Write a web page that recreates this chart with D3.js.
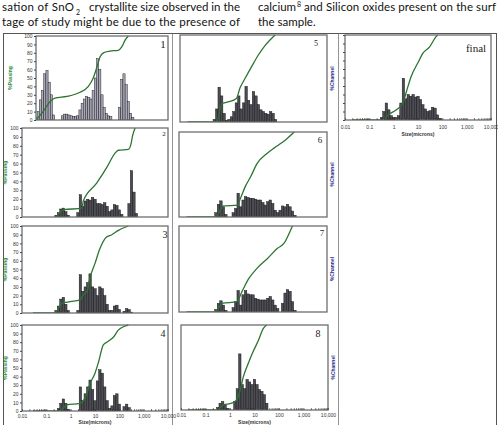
<!DOCTYPE html>
<html>
<head>
<meta charset="utf-8">
<script src="https://cdn.jsdelivr.net/npm/d3@7"></script>
<style>
  body { margin: 0; background: #fff; }
  svg { display: block; }
</style>
</head>
<body>
<script>
// particle size channels (microns), shared by every panel
const channels = [0.01, 0.0126, 0.0158, 0.02, 0.0251, 0.0316, 0.0398, 0.0501, 0.0631, 0.0794,
  0.1, 0.126, 0.158, 0.2, 0.251, 0.316, 0.398, 0.501, 0.631, 0.794,
  1, 1.26, 1.58, 2, 2.51, 3.16, 3.98, 5.01, 6.31, 7.94,
  10, 12.6, 15.8, 20, 25.1, 31.6, 39.8, 50.1, 63.1, 79.4,
  100, 126, 158, 200, 251, 316, 398, 501, 631, 794, 1000];

// % channel values, one per size channel
const bars1 = [3,10,24,35,55,59,45,30,6,0, 0,0,5,7,7,6,5,4,4,5, 12,20,25,28,27,25,35,50,73,60, 30,15,8,5,4,0,0,0,15,48, 55,42,22,8,3,0,0,0,0,0, 0];
const bars2 = [0,0,0,0,0,0,0,0,0,0, 0,0,0,0,2,5,9,10,6,2, 0,0,0,5,25,12,18,20,19,22, 20,15,15,14,16,12,6,8,14,13, 8,3,0,0,15,52,28,4,0,0, 0];
const bars3 = [0,0,0,0,0,0,0,0,0,0, 0,0,0,0,3,8,16,18,10,3, 0,0,0,3,44,25,30,35,45,30, 28,20,30,28,20,10,3,3,8,9, 4,0,2,5,4,1,0,0,0,0, 0];
const bars4 = [0,0,0,0,0,0,0,0,0,0, 0,0,0,0,0,3,9,14,9,2, 0,0,0,0,28,12,20,28,36,25, 12,35,48,44,28,12,3,6,18,20, 8,0,5,8,4,0,0,0,0,0, 0];
const bars5 = [0,0,0,0,0,0,0,0,0,0, 0,0,0,0,3,15,40,30,10,2, 3,6,12,22,30,15,22,41,25,20, 35,30,20,14,12,10,9,12,10,3, 0,0,0,0,0,0,0,0,0,0, 0];
const bars6 = [0,0,0,0,0,0,0,0,0,0, 0,0,0,0,0,5,15,19,12,3, 0,0,5,10,28,12,20,24,23,22, 22,21,20,20,17,14,18,20,16,8, 5,8,13,12,15,12,7,2,0,0, 0];
const bars7 = [0,0,0,0,0,0,0,0,0,0, 0,0,0,0,0,3,10,13,8,2, 0,0,5,12,25,8,20,25,21,20, 20,16,15,14,14,14,16,18,14,8, 4,0,10,22,26,24,12,2,0,0, 0];
const bars8 = [0,0,0,0,0,0,0,0,0,0, 0,0,0,0,0,3,8,10,6,2, 0,0,10,25,66,30,25,36,33,30, 36,30,24,22,18,8,0,0,0,0, 0,0,0,0,0,0,0,0,0,0, 0];
const barsFinal = [0,0,0,0,0,0,0,0,0,0, 0,0,0,0,0,3,10,20,12,5, 3,3,5,20,49,25,30,28,30,27, 28,24,18,13,10,11,15,14,6,2, 0,0,0,0,0,0,0,0,0,0, 0];

// cumulative % passing: [size, percent]
const cum1 = [[0.01,0],[0.021,10],[0.044,22],[0.073,26],[0.25,28],[1.0,33],[2.4,40],[4.0,50],[6.2,65],[8.1,75],[11.5,80],[23,82],[55,83],[79,87],[112,95],[158,100]];
const cum2 = [[0.27,0],[0.5,8],[2.9,10],[3.3,18],[11.7,38],[31,56],[68,72],[91,75],[234,76],[295,81],[355,92],[447,100]];
const cum3 = [[0.028,0],[0.23,0],[0.43,11],[0.95,13],[2.4,15],[3.3,21],[4.9,26],[5.9,38],[10,57],[16,74],[29,87],[49,90],[91,95],[234,100]];
const cum4 = [[0.028,0],[0.35,0],[0.69,7],[2.4,9],[3.9,15],[6.3,32],[10,44],[14,57],[22,77],[35,81],[58,86],[91,94],[148,98],[234,100]];
const cum5 = [[0.02,0],[0.32,0],[0.5,21],[0.93,23],[2.0,27],[2.8,39],[4.5,50],[8.5,64],[15.8,77],[30,88],[76,100]];
const cum6 = [[0.02,0],[0.30,0],[0.64,13],[2.3,14],[3.1,22],[4.9,36],[7.9,47],[14.8,63],[38,75],[71,81],[112,85],[214,91],[468,100]];
const cum7 = [[0.02,0],[0.30,0],[0.55,10],[2.2,12],[3.6,24],[6.8,39],[14.8,51],[38,62],[98,74],[182,80],[288,91],[398,100]];
const cum8 = [[0.02,0],[0.29,0],[0.54,6],[1.17,8],[1.86,12],[2.6,23.5],[3.5,39],[5.6,55],[8.9,69],[14.5,82],[23,96],[31.6,100]];
const cumFinal = [[0.02,0],[0.36,0],[0.59,6],[1.29,12],[2.4,20],[3.3,33],[5.2,51],[9.8,67],[15.5,78],[30,86],[55,98],[64,100]];

const sizeTicks = [0.01, 0.1, 1, 10, 100, 1000, 10000];
const sizeTickLabels = ['0.01', '0.1', '1', '10', '100', '1,000', '10,000'];
const passTicks = [0, 10, 20, 30, 40, 50, 60, 70, 80, 90, 100];

const W = 498, H = 425;
const svg = d3.select('body').append('svg')
  .attr('width', W).attr('height', H)
  .style('font-family', '"Liberation Sans", Arial, sans-serif');

// ---- body text above the figure ----
const txt = svg.append('g').style('font-family', 'Lato, "Open Sans", sans-serif')
  .style('font-size', '11.5px').attr('fill', '#111');
txt.append('text').attr('x', 2).attr('y', 11).attr('textLength', 72).attr('lengthAdjust', 'spacing').text('sation of SnO');
txt.append('text').attr('x', 76).attr('y', 14.5).style('font-size', '7px').text('2');
txt.append('text').attr('x', 89).attr('y', 11).attr('textLength', 151).attr('lengthAdjust', 'spacing').text('crystallite size observed in the');
txt.append('text').attr('x', 2).attr('y', 25.5).attr('textLength', 238).attr('lengthAdjust', 'spacing').text('tage of  study might be due to the presence of');
txt.append('text').attr('x', 258).attr('y', 11).text('calcium');
txt.append('text').attr('x', 297).attr('y', 7).style('font-size', '7px').text('8');
txt.append('text').attr('x', 304).attr('y', 11).attr('textLength', 192).attr('lengthAdjust', 'spacing').text('and Silicon oxides present on the surf');
txt.append('text').attr('x', 258).attr('y', 25.5).text('the sample.');

// table frame round the figure
svg.append('rect').attr('x', 3.5).attr('y', 33.5).attr('width', 493).attr('height', 392)
  .attr('fill', 'none').attr('stroke', '#555').attr('stroke-width', 1);
[172.5, 338.5].forEach(xx => {
  svg.append('line').attr('x1', xx).attr('x2', xx).attr('y1', 33.5).attr('y2', 425)
    .attr('stroke', '#777').attr('stroke-width', 0.8);
});

// panel placement (pixels)
const panels = [
  { bars: bars1, cum: cum1, x0: 36, x1: 168, top: 36, base: 120, passing: true, passX: 12, light: true, tag: [163, 48, 11] },
  { bars: bars2, cum: cum2, x0: 22, x1: 168, top: 128, base: 217, passing: true, passX: 7, tag: [164, 136, 7] },
  { bars: bars3, cum: cum3, x0: 22, x1: 168, top: 226, base: 313, passing: true, passX: 7, tag: [165, 238, 10] },
  { bars: bars4, cum: cum4, x0: 22, x1: 168, top: 325, base: 411, passing: true, passX: 7, sizes: true, pad: 3, tag: [163, 337, 10] },
  { bars: bars5, cum: cum5, x0: 180, x1: 327, top: 35, base: 122, channel: true, tag: [316, 46, 8] },
  { bars: bars6, cum: cum6, x0: 179, x1: 327, top: 132, base: 217, channel: true, tag: [320, 143, 9] },
  { bars: bars7, cum: cum7, x0: 179, x1: 327, top: 226, base: 312, channel: true, tag: [322, 236, 9] },
  { bars: bars8, cum: cum8, x0: 181, x1: 328, top: 325, base: 410, channel: true, sizes: true, pad: 3.5, tag: [318, 337, 10] },
  { bars: barsFinal, cum: cumFinal, x0: 345, x1: 491, top: 35, base: 120, sizes: true, pad: 5.5, leftTicks: true, tag: [476, 52, 11] }
];
const panelNames = ['1', '2', '3', '4', '5', '6', '7', '8', 'final'];

const half = Math.pow(10, 0.05); // half a channel width on the log axis

panels.forEach((p, i) => {
  const x = d3.scaleLog().domain([0.01, 10000]).range([p.x0, p.x1]);
  const y = d3.scaleLinear().domain([0, 100]).range([p.base, p.top]);
  const g = svg.append('g');

  g.append('clipPath').attr('id', 'clip' + i).append('rect')
    .attr('x', p.x0).attr('y', p.top - 1).attr('width', p.x1 - p.x0).attr('height', p.base - p.top + 1);
  const plot = g.append('g').attr('clip-path', `url(#clip${i})`);

  const binData = channels.map((c, k) => ({ c, v: p.bars[k] })).filter(d => d.v > 0);
  plot.selectAll('rect.bar')
    .data(binData)
    .enter().append('rect')
    .attr('class', 'bar')
    .attr('x', d => x(d.c / half))
    .attr('width', d => x(d.c * half) - x(d.c / half))
    .attr('y', d => y(d.v))
    .attr('height', d => y(0) - y(d.v))
    .attr('fill', p.light ? '#a9a8b8' : '#4c4c54')
    .attr('stroke', '#141414')
    .attr('stroke-width', 0.45);

  plot.append('path')
    .datum(p.cum)
    .attr('d', d3.line().x(d => x(d[0])).y(d => y(d[1])).curve(d3.curveMonotoneX))
    .attr('fill', 'none')
    .attr('stroke', '#2c7431')
    .attr('stroke-width', 1.3);

  g.append('rect')
    .attr('x', p.x0).attr('y', p.top)
    .attr('width', p.x1 - p.x0).attr('height', p.base - p.top)
    .attr('fill', 'none').attr('stroke', '#6e6e6e').attr('stroke-width', 1.3);

  if (p.passing) {
    const ax = g.append('g')
      .attr('transform', `translate(${p.x0},0)`)
      .call(d3.axisLeft(y).tickValues(passTicks).tickSize(2).tickPadding(1.5));
    ax.select('.domain').remove();
    ax.selectAll('line').attr('stroke', '#444');
    ax.selectAll('text').style('font-size', '5px').attr('fill', '#333');
    g.append('text')
      .attr('transform', `translate(${p.passX},${(p.top + p.base) / 2}) rotate(-90)`)
      .attr('text-anchor', 'middle')
      .style('font-size', '5px').style('font-weight', 'bold')
      .attr('fill', '#2f8a34')
      .text('%Passing');
  }

  if (p.leftTicks) {
    const ax = g.append('g')
      .attr('transform', `translate(${p.x0},0)`)
      .call(d3.axisLeft(y).tickValues(passTicks).tickSize(2).tickFormat(''));
    ax.select('.domain').remove();
    ax.selectAll('line').attr('stroke', '#444');
  }

  if (p.channel) {
    g.append('text')
      .attr('transform', `translate(${p.x1 + 7},${(p.top + p.base) / 2}) rotate(-90)`)
      .attr('text-anchor', 'middle')
      .style('font-size', '5px').style('font-weight', 'bold')
      .attr('fill', '#2b2b86')
      .text('%Channel');
  }

  if (p.sizes) {
    const minor = [];
    sizeTicks.slice(0, -1).forEach(t => [1, 2, 3, 4, 5, 6, 7, 8, 9].forEach(m => minor.push(t * m)));
    minor.push(10000);
    const ax = g.append('g')
      .attr('transform', `translate(0,${p.base})`)
      .call(d3.axisBottom(x).tickValues(minor).tickSizeInner(-2).tickSizeOuter(0).tickPadding(p.pad)
        .tickFormat(d => {
          const j = sizeTicks.findIndex(t => Math.abs(t - d) / t < 1e-6);
          return j >= 0 ? sizeTickLabels[j] : '';
        }));
    ax.select('.domain').remove();
    ax.selectAll('line').attr('stroke', '#333').attr('stroke-width', 0.6);
    ax.selectAll('text').style('font-size', '5px').attr('fill', '#333');
    g.append('text')
      .attr('x', (p.x0 + p.x1) / 2).attr('y', p.base + p.pad + 10)
      .attr('text-anchor', 'middle')
      .style('font-size', '5px').style('font-weight', 'bold')
      .attr('fill', '#333')
      .text('Size(microns)');
  }

  g.append('text')
    .attr('x', p.tag[0]).attr('y', p.tag[1])
    .attr('text-anchor', 'middle')
    .style('font-family', '"Liberation Serif", "DejaVu Serif", serif')
    .style('font-size', p.tag[2] + 'px')
    .attr('fill', '#222')
    .text(panelNames[i]);
});
</script>
</body>
</html>
